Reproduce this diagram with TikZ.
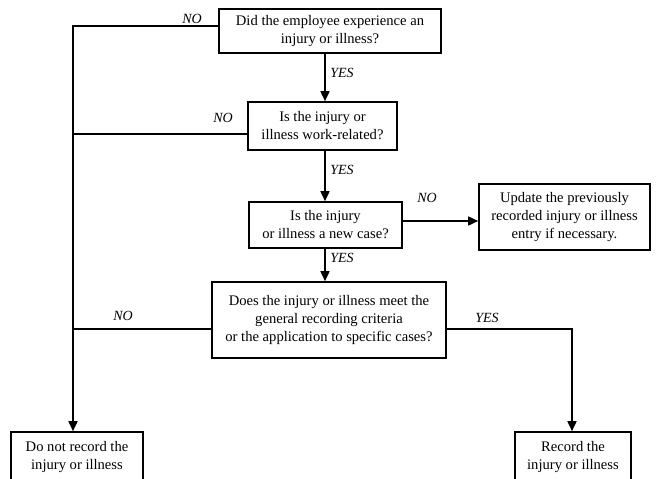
\documentclass[tikz,border=0pt]{standalone}
\usepackage{fontspec}
\setmainfont{Liberation Serif}
\usetikzlibrary{arrows.meta}
\begin{document}
\begin{tikzpicture}[x=1pt,y=-1pt,
 box/.style={draw, line width=1.6pt, align=center, inner sep=0pt, font=\fontsize{14.6}{18}\selectfont},
 lbl/.style={font=\itshape\fontsize{14}{16}\selectfont, inner sep=0pt},
 conn/.style={line width=1.6pt},
 arr/.style={conn, -{Triangle[length=10pt,width=9pt]}}]
\useasboundingbox (0,0) rectangle (657,479);
\clip (0,0) rectangle (657,479);
\node[box, minimum width=222, minimum height=44] (b1) at (330,31) {Did the employee experience an\\injury or illness?};
\node[box, minimum width=149, minimum height=48] (b2) at (322.5,126) {Is the injury or\\illness work-related?};
\node[box, minimum width=153, minimum height=46] (b3) at (325.5,225) {Is the injury\\or illness a new case?};
\node[box, minimum width=171, minimum height=66] (b4) at (564.5,217) {Update the previously\\recorded injury or illness\\entry if necessary.};
\node[box, minimum width=234, minimum height=76] (b5) at (329,320) {Does the injury or illness meet the\\general recording criteria\\or the application to specific cases?};
\node[box, minimum width=132, minimum height=50] (b6) at (77,457) {Do not record the\\injury or illness};
\node[box, minimum width=116, minimum height=50] (b7) at (573,457) {Record the\\injury or illness};
% helper coordinates
\coordinate (cx) at (325,0);
\coordinate (L1) at (73,26);
\coordinate (L2) at (73,134);
\coordinate (L3) at (73,329);
\coordinate (R3) at (572,329);
\coordinate (m3) at (0,221);
% connectors
\draw[arr] (b1.south -| cx) -- (b2.north -| cx);
\draw[arr] (b2.south -| cx) -- (b3.north -| cx);
\draw[arr] (b3.south -| cx) -- (b5.north -| cx);
\draw[arr] (b3.east |- m3) -- (b4.west |- m3);
\draw[arr] (b1.west |- L1) -- (L1) -- (b6.north -| L1);
\draw[conn] (b2.west |- L2) -- (L2);
\draw[conn] (b5.west |- L3) -- (L3);
\draw[arr] (b5.east |- R3) -- (R3) -- (b7.north -| R3);
% labels
\node[lbl] (n1) at (192,19) {NO};
\node[lbl] (n2) at (223,118) {NO};
\node[lbl] (y1) at (342,73) {YES};
\node[lbl] (y2) at (342,170) {YES};
\node[lbl] (y3) at (342,258) {YES};
\node[lbl] (n3) at (427,198) {NO};
\node[lbl] (n4) at (123,316) {NO};
\node[lbl] (y4) at (487,318) {YES};
\end{tikzpicture}
\end{document}
